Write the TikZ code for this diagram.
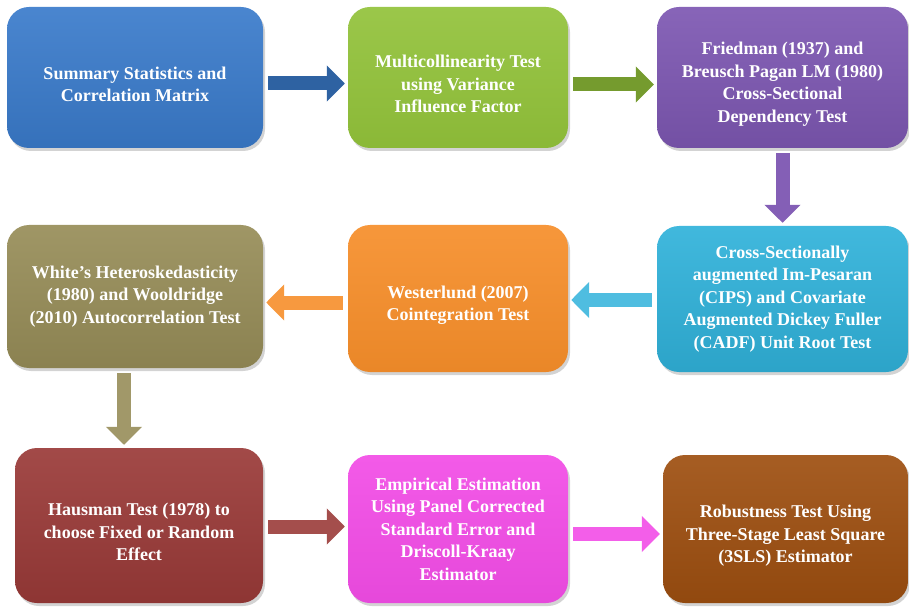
\documentclass[tikz,border=0pt]{standalone}
\usepackage{fontspec}
\setmainfont{Liberation Serif}
\usetikzlibrary{shadows,arrows.meta}

\definecolor{boxblue}{HTML}{3A7BCB}
\definecolor{boxgreen}{HTML}{92C23A}
\definecolor{boxpurple}{HTML}{7D57B2}
\definecolor{boxolive}{HTML}{978D58}
\definecolor{boxorange}{HTML}{F68E2A}
\definecolor{boxcyan}{HTML}{30B2DA}
\definecolor{boxred}{HTML}{9A3A38}
\definecolor{boxpink}{HTML}{F24CE6}
\definecolor{boxbrown}{HTML}{9E4F10}
% pushes a node's text block a little below the centre
\newcommand{\txtdrop}{\rule{0pt}{26pt}}

\begin{document}
\begin{tikzpicture}[x=1pt,y=-1pt,
    stage/.style={rectangle, rounded corners=22pt, align=center, text=white,
      font=\bfseries\fontsize{18}{22.5}\selectfont, inner sep=4pt,
      drop shadow={shadow xshift=2pt, shadow yshift=-3pt, opacity=0.35}},
    flow/.style={line width=14pt, -{Triangle[width=35pt,length=18pt]},
      shorten <=5pt, shorten >=3pt}]
\useasboundingbox (0,0) rectangle (909,609);

% first row
\node[stage, minimum width=256pt, minimum height=141pt,
  top color=boxblue!92!white, bottom color=boxblue!92!black] (summary) at (135,77.5)
  {\txtdrop Summary Statistics and\\Correlation Matrix};
\node[stage, minimum width=220pt, minimum height=141pt,
  top color=boxgreen!92!white, bottom color=boxgreen!95!black] (vif) at (458,77.5)
  {\txtdrop Multicollinearity Test\\using Variance\\Influence Factor};
\node[stage, minimum width=251pt, minimum height=141pt,
  top color=boxpurple!92!white, bottom color=boxpurple!92!black] (csd) at (782.5,77.5)
  {\txtdrop Friedman (1937) and\\Breusch Pagan LM (1980)\\Cross-Sectional\\Dependency Test};

% second row
\node[stage, minimum width=251pt, minimum height=146pt,
  top color=boxcyan!92!white, bottom color=boxcyan!92!black] (unitroot) at (782.5,299)
  {Cross-Sectionally\\augmented Im-Pesaran\\(CIPS) and Covariate\\Augmented Dickey Fuller\\(CADF) Unit Root Test};
\node[stage, minimum width=220pt, minimum height=147pt,
  top color=boxorange!92!white, bottom color=boxorange!95!black] (coint) at (458,298.5)
  {\txtdrop Westerlund (2007)\\Cointegration Test};
\node[stage, minimum width=256pt, minimum height=143pt,
  top color=boxolive!92!white, bottom color=boxolive!92!black] (hetero) at (135,296.5)
  {White’s Heteroskedasticity\\(1980) and Wooldridge\\(2010) Autocorrelation Test};

% third row
\node[stage, minimum width=248pt, minimum height=155pt,
  top color=boxred!92!white, bottom color=boxred!92!black] (hausman) at (139,525.5)
  {\txtdrop Hausman Test (1978) to\\choose Fixed or Random\\Effect};
\node[stage, minimum width=220pt, minimum height=148pt,
  top color=boxpink!92!white, bottom color=boxpink!95!black] (pcse) at (458,529)
  {Empirical Estimation\\Using Panel Corrected\\Standard Error and\\Driscoll-Kraay\\Estimator};
\node[stage, minimum width=245pt, minimum height=148pt,
  top color=boxbrown!92!white, bottom color=boxbrown!92!black] (threesls) at (785.5,529)
  {\txtdrop Robustness Test Using\\Three-Stage Least Square\\(3SLS) Estimator};

% block arrows
\draw[flow, boxblue!80!black] ([yshift=-6pt]summary.east) -- ([yshift=-6pt]summary.east -| vif.west);
\draw[flow, boxgreen!80!black] ([yshift=-7pt]vif.east) -- ([yshift=-7pt]vif.east -| csd.west);
\draw[flow, boxpurple!95!white] (csd.south) -- (unitroot.north);
\draw[flow, boxcyan!85!white] ([yshift=-1pt]unitroot.west) -- ([yshift=-1pt]unitroot.west -| coint.east);
\draw[flow, boxorange!90!white] ([yshift=-4pt]coint.west) -- ([yshift=-4pt]coint.west -| hetero.east);
\draw[flow, boxolive!90!white] ([xshift=-11pt]hetero.south) -- ([xshift=-11pt]hetero.south |- hausman.north);
\draw[flow, boxred!90!white] ([yshift=-1pt]hausman.east) -- ([yshift=-1pt]hausman.east -| pcse.west);
\draw[flow, boxpink!90!white] ([yshift=-5pt]pcse.east) -- ([yshift=-5pt]pcse.east -| threesls.west);
\end{tikzpicture}
\end{document}
